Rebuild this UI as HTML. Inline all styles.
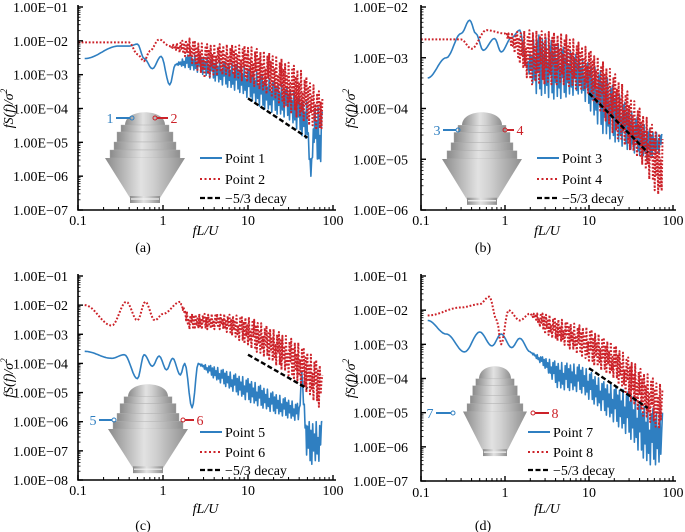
<!DOCTYPE html>
<html><head><meta charset="utf-8"><style>
html,body{margin:0;padding:0;background:#fff;}
svg{display:block;font-family:"Liberation Serif",serif;}
</style></head><body>
<svg id="fig" width="685" height="532" viewBox="0 0 685 532" xmlns="http://www.w3.org/2000/svg">
<defs>
<linearGradient id="bg" x1="0" x2="1" y1="0" y2="0">
<stop offset="0" stop-color="#8a8a8a"/><stop offset="0.45" stop-color="#e2e2e2"/><stop offset="0.6" stop-color="#d0d0d0"/><stop offset="1" stop-color="#8e8e8e"/>
</linearGradient>
</defs>
</svg>
<script>
// ---- data (frequency fL/U, upper envelope, lower envelope) ----
const aP1Freq=[0.12,0.3,0.4,0.5,0.6,0.75,0.95,1.2,1.4,2,3,5,8,15,30,50,55,60,70,75];
const aP1Hi=[3e-3,7e-3,7e-3,8e-3,3e-3,1.5e-3,3.5e-3,5e-4,2e-3,4e-3,3.5e-3,2.5e-3,2e-3,1e-3,4e-4,1.5e-4,1e-6,1.2e-4,1e-4,8e-5];
const aP1Lo=[3e-3,7e-3,7e-3,8e-3,3e-3,1.5e-3,3.5e-3,5e-4,2e-3,1.5e-3,1e-3,5e-4,3e-4,1e-4,5e-5,1e-5,1e-6,1e-5,1e-6,2e-5];
const aP2Freq=[0.1,0.4,0.5,0.6,0.7,0.9,1.2,2,3,5,10,20,40,70,75];
const aP2Hi=[9e-3,9e-3,4e-3,2.5e-3,5e-3,1.1e-2,7e-3,1.2e-2,8e-3,8e-3,7e-3,4e-3,1.5e-3,3e-4,2e-4];
const aP2Lo=[9e-3,9e-3,4e-3,2.5e-3,5e-3,1.1e-2,7e-3,3e-3,8e-4,1e-3,6e-4,2e-4,5e-5,2e-5,3e-5];

const bP3Freq=[0.12,0.2,0.3,0.38,0.45,0.55,0.75,0.9,1.2,1.5,1.8,2.3,4,8,15,30,50,75];
const bP3Hi=[4e-4,1e-3,3e-3,5.5e-3,3e-3,1.4e-3,2.4e-3,1.3e-3,2.5e-3,3.5e-3,7e-4,3e-3,2e-3,1e-3,5e-4,1e-4,4e-5,3e-5];
const bP3Lo=[4e-4,1e-3,3e-3,5.5e-3,3e-3,1.4e-3,2.4e-3,1.3e-3,2.5e-3,3.5e-3,7e-4,2e-4,1.5e-4,2e-4,3e-5,1.5e-5,1e-5,1.5e-5];
const bP4Freq=[0.1,0.3,0.4,0.6,1,2,5,10,20,40,70,75];
const bP4Hi=[2.3e-3,2.3e-3,1.5e-3,3.5e-3,3e-3,3.5e-3,3e-3,1.5e-3,5e-4,1e-4,3e-5,2.5e-5];
const bP4Lo=[2.3e-3,2.3e-3,1.5e-3,3.5e-3,3e-3,3e-4,3e-4,2e-4,3e-5,1e-5,1.5e-6,3e-6];

const cP5Freq=[0.12,0.25,0.35,0.5,0.6,0.75,0.9,1.1,1.3,1.6,1.8,2.2,2.6,4,10,20,40,43,46,50,75];
const cP5Hi=[2.6e-4,1.5e-4,2e-4,3e-5,2e-4,8e-5,1.8e-4,6e-5,1.5e-4,4e-5,1e-4,3e-6,1e-4,8e-5,3e-5,1e-5,4e-6,5e-5,4e-6,1e-6,1e-6];
const cP5Lo=[2.6e-4,1.5e-4,2e-4,3e-5,2e-4,8e-5,1.8e-4,6e-5,1.5e-4,4e-5,1e-4,3e-6,1e-4,3e-5,5e-6,2e-6,1e-6,5e-5,1e-6,3e-8,5e-8];
const cP6Freq=[0.12,0.25,0.37,0.5,0.62,0.8,1,1.6,2,5,10,20,40,70,75];
const cP6Hi=[1e-2,2e-3,1.3e-2,3e-3,1.3e-2,3e-3,5e-3,1.3e-2,5e-3,5e-3,4e-3,1.5e-3,5e-4,1e-4,4e-5];
const cP6Lo=[1e-2,2e-3,1.3e-2,3e-3,1.3e-2,3e-3,5e-3,1.3e-2,1.5e-3,1.5e-3,4e-4,1e-4,2e-5,3e-6,5e-6];

const dP7Freq=[0.12,0.2,0.33,0.5,0.7,0.9,1.2,1.5,2,3,4.3,8,15,30,50,75];
const dP7Hi=[5e-3,2e-3,6e-4,2.3e-3,9e-4,2e-3,8e-4,1.5e-3,6e-4,4e-4,3e-4,2.5e-4,8e-5,4e-5,1.5e-5,1e-5];
const dP7Lo=[5e-3,2e-3,6e-4,2.3e-3,9e-4,2e-3,8e-4,1.5e-3,6e-4,2e-4,5e-5,4e-5,1e-5,2e-6,3e-7,3e-7];
const dP8Freq=[0.12,0.3,0.5,0.65,0.8,0.9,1.1,1.5,2,3,5,10,20,40,70,75];
const dP8Hi=[7e-3,1.2e-2,1.5e-2,2.5e-2,5e-3,1e-3,1e-2,5e-3,8e-3,8e-3,5e-3,3e-3,1e-3,2e-4,7e-5,5e-5];
const dP8Lo=[7e-3,1.2e-2,1.5e-2,2.5e-2,5e-3,1e-3,1e-2,5e-3,8e-3,2e-3,1e-3,3e-4,1e-4,1e-5,3e-6,5e-6];

const decayFreq=[10,50];
const decayStart=[2e-4,2e-4,2e-4,2e-4];
const yTickExpA=[-1,-2,-3,-4,-5,-6,-7];
const yTickExpB=[-2,-3,-4,-5,-6];
const yTickExpC=[-1,-2,-3,-4,-5,-6,-7,-8];
const yTickExpD=[-1,-2,-3,-4,-5,-6,-7];
const xTickLabels=["0.1","1","10","100"];

// ---- layout ----
const NS="http://www.w3.org/2000/svg";
const svg=document.getElementById('fig');
function el(tag,attrs,parent){const e=document.createElementNS(NS,tag);for(const k in attrs)e.setAttribute(k,attrs[k]);(parent||svg).appendChild(e);return e;}
const BLUE="#2f7fc1",RED="#cc2229";
const PAT=[1,0.1,0.8,0,0.95,0.3,0.7,0.05,1,0.2,0.6,0,0.9,0.4];

const panels=[
 {id:'a',x0:78,x1:333,yt:7,yb:210,yTicks:yTickExpA,lblR:68,lblY:225,titleY:235,capX:143,capY:252,
  s1:[aP1Freq,aP1Hi,aP1Lo],s2:[aP2Freq,aP2Hi,aP2Lo],names:['Point 1','Point 2'],nums:['1','2'],
  leg:{x:200,ys:[158,179,198]},bld:{x:105,y:110,sx:1,sy:1},marks:{ly:118,lx:110,lc:132,rc:155,rx:174}},
 {id:'b',x0:421,x1:673,yt:7,yb:210,yTicks:yTickExpB,lblR:408,lblY:225,titleY:235,capX:483,capY:252,
  s1:[bP3Freq,bP3Hi,bP3Lo],s2:[bP4Freq,bP4Hi,bP4Lo],names:['Point 3','Point 4'],nums:['3','4'],
  leg:{x:537,ys:[158,179,198]},bld:{x:442,y:110,sx:1,sy:1.02},marks:{ly:130,lx:437,lc:458,rc:505,rx:520}},
 {id:'c',x0:78,x1:333,yt:276,yb:480,yTicks:yTickExpC,lblR:68,lblY:495,titleY:513,capX:143,capY:530,
  s1:[cP5Freq,cP5Hi,cP5Lo],s2:[cP6Freq,cP6Hi,cP6Lo],names:['Point 5','Point 6'],nums:['5','6'],
  leg:{x:200,ys:[432,452,470]},bld:{x:108,y:382,sx:1,sy:0.98},marks:{ly:420,lx:93,lc:114,rc:183,rx:200}},
 {id:'d',x0:421,x1:673,yt:276,yb:481,yTicks:yTickExpD,lblR:408,lblY:497,titleY:513,capX:483,capY:530,
  s1:[dP7Freq,dP7Hi,dP7Lo],s2:[dP8Freq,dP8Hi,dP8Lo],names:['Point 7','Point 8'],nums:['7','8'],
  leg:{x:528,ys:[432,452,470]},bld:{x:463,y:364,sx:0.8,sy:0.99},marks:{ly:413,lx:430,lc:453,rc:533,rx:555}}
];

function zig(F,H,L,sx,sy){
  const pts=[];let k=0;
  for(let i=0;i<F.length-1;i++){
    const xa=sx(F[i]),xb=sx(F[i+1]);
    const band=(H[i]!==L[i])||(H[i+1]!==L[i+1]);
    const step=band?0.9:1.5;
    const n=Math.max(1,Math.ceil((xb-xa)/step));
    for(let j=0;j<n;j++){
      const u=j/n;
      const w=band?u:(1-Math.cos(Math.PI*u))/2;
      const hl=Math.log10(H[i])*(1-w)+Math.log10(H[i+1])*w;
      const ll=Math.log10(L[i])*(1-w)+Math.log10(L[i+1])*w;
      let v=hl;
      if(band){const t=PAT[k%PAT.length];k++;v=ll+t*(hl-ll);}
      pts.push([xa+u*(xb-xa),sy(Math.pow(10,v))]);
    }
  }
  const m=F.length-1;pts.push([sx(F[m]),sy(H[m])]);
  return pts.map(p=>p[0].toFixed(1)+','+p[1].toFixed(1)).join(' ');
}

function building(g,b){
  const B=el('g',{transform:`translate(${b.x},${b.y}) scale(${b.sx},${b.sy})`},g);
  
  
  el('path',{d:'M20,15 C20,-2 60,-2 60,15 Z',fill:'url(#bg)'},B);
  const tiers=[[16,15,48,7],[12,22,56,10],[9,32,62,8],[5,40,70,8]];
  tiers.forEach(t=>{el('rect',{x:t[0],y:t[1],width:t[2],height:t[3],fill:'url(#bg)',stroke:'#aaa','stroke-width':0.4},B);});
  el('path',{d:'M0,48 L80,48 L55,88 L25,88 Z',fill:'url(#bg)'},B);
  el('rect',{x:25,y:86,width:30,height:7,fill:'url(#bg)'},B);
  el('line',{x1:26,y1:89,x2:54,y2:89,stroke:'#f2f2f2','stroke-width':1.2},B);
}

panels.forEach(P=>{
  const g=el('g',{});
  
  
  const ymax=P.yTicks[0],ymin=P.yTicks[P.yTicks.length-1];
  const sx=f=>P.x0+(Math.log10(f)+1)/3*(P.x1-P.x0);
  const sy=v=>P.yt+(ymax-Math.log10(v))/(ymax-ymin)*(P.yb-P.yt);

  building(g,P.bld);
  const m=P.marks;
  const n1=el('text',{x:m.lx,y:m.ly+5,'font-size':14,fill:BLUE,'text-anchor':'middle'},g);n1.textContent=P.nums[0];
  
  
  el('line',{x1:m.lx+6,y1:m.ly,x2:m.lc-2,y2:m.ly,stroke:BLUE,'stroke-width':2},g);
  el('circle',{cx:m.lc,cy:m.ly,r:2,fill:'none',stroke:BLUE,'stroke-width':1},g);
  el('circle',{cx:m.rc,cy:m.ly,r:2,fill:'none',stroke:RED,'stroke-width':1},g);
  el('line',{x1:m.rc+2,y1:m.ly,x2:m.rx-6,y2:m.ly,stroke:RED,'stroke-width':2},g);
  const n2=el('text',{x:m.rx,y:m.ly+5,'font-size':14,fill:RED,'text-anchor':'middle'},g);n2.textContent=P.nums[1];
  
  

  const l1=el('polyline',{points:zig(P.s1[0],P.s1[1],P.s1[2],sx,sy),fill:'none',stroke:BLUE,'stroke-width':1.6,'stroke-linejoin':'round'},g);
  
  
  const l2=el('polyline',{points:zig(P.s2[0],P.s2[1],P.s2[2],sx,sy),fill:'none',stroke:RED,'stroke-width':2,'stroke-dasharray':'1.8 1.8','stroke-linejoin':'round'},g);
  
  
  const idx=panels.indexOf(P);
  const d0=decayStart[idx],d1=d0*Math.pow(decayFreq[1]/decayFreq[0],-5/3);
  const dl=el('line',{x1:sx(decayFreq[0]),y1:sy(d0),x2:sx(decayFreq[1]),y2:sy(d1),stroke:'#000','stroke-width':2.4,'stroke-dasharray':'5 2.5'},g);
  
  

  const ax=el('path',{d:`M${P.x0},${P.yt-2} L${P.x0},${P.yb} L${P.x1+3},${P.yb}`,fill:'none',stroke:'#000','stroke-width':1.6},g);
  
  
  for(let e=-1;e<=2;e++){
    const X=sx(Math.pow(10,e));
    el('line',{x1:X,y1:P.yb,x2:X,y2:P.yb-5,stroke:'#000','stroke-width':1.4},g);
    const t=el('text',{x:X,y:P.lblY,'font-size':14,'text-anchor':'middle'},g);t.textContent=xTickLabels[e+1];
    
    
    if(e<2)for(let k=2;k<10;k++){const x=sx(k*Math.pow(10,e));el('line',{x1:x,y1:P.yb,x2:x,y2:P.yb-3,stroke:'#000','stroke-width':1},g);}
  }
  P.yTicks.forEach((e,i)=>{
    const Y=sy(Math.pow(10,e));
    el('line',{x1:P.x0,y1:Y,x2:P.x0+5,y2:Y,stroke:'#000','stroke-width':1.4},g);
    const t=el('text',{x:P.lblR,y:Y+5,'font-size':14,'text-anchor':'end'},g);
    t.textContent='1.00E\u2212'+String(-e).padStart(2,'0');
    
    
    if(i<P.yTicks.length-1)for(let k=2;k<10;k++){const y=sy(k*Math.pow(10,e-1));el('line',{x1:P.x0,y1:y,x2:P.x0+2.5,y2:y,stroke:'#000','stroke-width':0.8},g);}
  });
  const xt=el('text',{x:(P.x0+P.x1)/2,y:P.titleY,'font-size':14,'font-style':'italic','text-anchor':'middle'},g);
  xt.textContent='fL/U';
  
  
  const yc=(P.yt+P.yb)/2, yx=P.x0===78?13:355;
  const yt=el('text',{x:0,y:0,'font-size':14,'font-style':'italic','text-anchor':'middle',transform:`translate(${yx},${yc}) rotate(-90)`},g);
  yt.innerHTML='fS(f)/σ<tspan dy="-6" font-size="9">2</tspan>';
  
  
  const cap=el('text',{x:P.capX,y:P.capY,'font-size':14,'text-anchor':'middle'},g);
  cap.textContent='('+P.id+')';
  
  

  const L=P.leg;
  const lg=el('g',{},g);
  
  
  el('line',{x1:L.x,y1:L.ys[0],x2:L.x+22,y2:L.ys[0],stroke:BLUE,'stroke-width':2},lg);
  el('line',{x1:L.x,y1:L.ys[1],x2:L.x+22,y2:L.ys[1],stroke:RED,'stroke-width':2,'stroke-dasharray':'2 2.5'},lg);
  el('line',{x1:L.x,y1:L.ys[2],x2:L.x+22,y2:L.ys[2],stroke:'#000','stroke-width':2.2,'stroke-dasharray':'5 2.5'},lg);
  [P.names[0],P.names[1],'\u22125/3 decay'].forEach((s,i)=>{
    const t=el('text',{x:L.x+25,y:L.ys[i]+5,'font-size':14},lg);t.textContent=s;
    
    
  });
});
</script>
</body></html>
